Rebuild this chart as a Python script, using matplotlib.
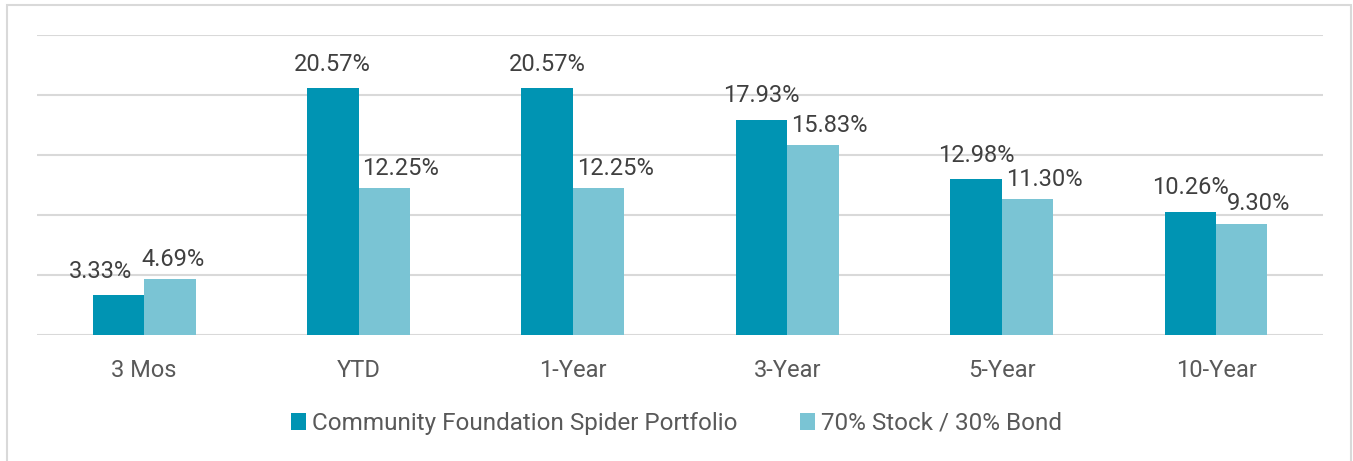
import numpy as np
import matplotlib.pyplot as plt
from matplotlib.patches import Rectangle

plt.rcParams['font.family'] = ['Roboto', 'DejaVu Sans']

categories = ['3 Mos', 'YTD', '1-Year', '3-Year', '5-Year', '10-Year']
spider = [3.33, 20.57, 20.57, 17.93, 12.98, 10.26]
stock_bond = [4.69, 12.25, 12.25, 15.83, 11.30, 9.30]
series_names = ['Community Foundation Spider Portfolio', '70% Stock / 30% Bond']

dark = '#0094b3'
light = '#7ac4d4'

fig = plt.figure(figsize=(13.53, 4.61), dpi=100)
ax = fig.add_axes([0.0273, 0.273, 0.9507, 0.651])

x = np.arange(len(categories))
w = 0.24
b1 = ax.bar(x - w / 2, spider, w, color=dark, label=series_names[0])
b2 = ax.bar(x + w / 2, stock_bond, w, color=light, label=series_names[1])

# label positions roughly like the excel output (slight shifts)
for i, (r, v) in enumerate(zip(b1, spider)):
    dx = -13 if i == 0 else 0
    ax.annotate(f'{v:.2f}%', (r.get_x() + r.get_width() / 2, v),
                xytext=(dx, 9), textcoords='offset points', ha='center', va='bottom',
                fontsize=17, color='#404040')
for i, (r, v) in enumerate(zip(b2, stock_bond)):
    dx = 2 if i == 0 else 12
    ax.annotate(f'{v:.2f}%', (r.get_x() + r.get_width() / 2, v),
                xytext=(dx, 6), textcoords='offset points', ha='center', va='bottom',
                fontsize=17, color='#404040')

ax.set_xlim(-0.5, len(categories) - 0.5)
ax.set_ylim(0, 25)
ax.set_yticks([0, 5, 10, 15, 20, 25])
ax.yaxis.grid(True, color='#d9d9d9', linewidth=1.5)
ax.set_axisbelow(True)
ax.set_yticklabels([])
ax.tick_params(axis='y', length=0)
ax.tick_params(axis='x', length=0, pad=17, labelsize=17, labelcolor='#595959')
ax.set_xticks(x)
ax.set_xticklabels(categories)
for s in ax.spines.values():
    s.set_visible(False)

fig.legend(loc='center', bbox_to_anchor=(0.5, 0.082), ncol=2, frameon=False,
           fontsize=17.5, labelcolor='#595959', handlelength=0.6, handleheight=0.7,
           handletextpad=0.25, columnspacing=2.6)

fig.add_artist(Rectangle((7 / 1353, -0.05), 1344 / 1353, 1.05 - 5 / 461,
                         transform=fig.transFigure, fill=False,
                         edgecolor='#d9d9d9', linewidth=1.5))

fig.savefig('out.png', dpi=100)
